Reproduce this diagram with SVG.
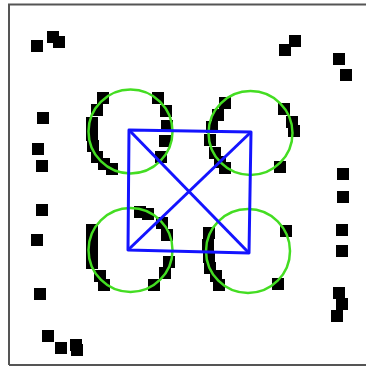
<svg xmlns="http://www.w3.org/2000/svg" width="366" height="367" viewBox="0 0 366 367">
<style>
.f{fill:none;stroke:#555;stroke-width:2}
.s{fill:#000}
.c{fill:none;stroke:#44dd22;stroke-width:2.5}
.b{fill:none;stroke:#1414ff;stroke-width:3;stroke-linejoin:round}
</style>
<defs><rect id="q" width="12" height="12"/></defs>
<rect x="0" y="0" width="366" height="367" fill="#fff"/>
<path class="f" d="M9,365 V4.5 H366 M9,365 H366"/>
<g id="dots" class="s">
<use href="#q" x="31" y="40"/><use href="#q" x="47" y="31"/><use href="#q" x="53" y="36"/>
<use href="#q" x="279" y="44"/><use href="#q" x="289" y="35"/><use href="#q" x="333" y="53"/><use href="#q" x="340" y="69"/>
<use href="#q" x="37" y="112"/><use href="#q" x="32" y="143"/><use href="#q" x="36" y="160"/><use href="#q" x="36" y="204"/><use href="#q" x="31" y="234"/><use href="#q" x="34" y="288"/>
<use href="#q" x="42" y="330"/><use href="#q" x="55" y="342"/><use href="#q" x="70" y="339"/><use href="#q" x="71" y="344"/>
<use href="#q" x="337" y="168"/><use href="#q" x="337" y="191"/><use href="#q" x="336" y="224"/><use href="#q" x="336" y="245"/><use href="#q" x="333" y="287"/><use href="#q" x="336" y="298"/><use href="#q" x="331" y="310"/>
<use href="#q" x="97" y="92"/><use href="#q" x="91" y="104"/><use href="#q" x="86" y="117"/><use href="#q" x="86" y="129"/><use href="#q" x="87" y="140"/><use href="#q" x="91" y="151"/><use href="#q" x="98" y="158"/><use href="#q" x="106" y="163"/>
<use href="#q" x="152" y="92"/><use href="#q" x="160" y="105"/><use href="#q" x="161" y="120"/><use href="#q" x="159" y="135"/><use href="#q" x="155" y="151"/>
<use href="#q" x="219" y="97"/><use href="#q" x="212" y="109"/><use href="#q" x="206" y="121"/><use href="#q" x="204" y="134"/><use href="#q" x="209" y="147"/><use href="#q" x="214" y="156"/><use href="#q" x="219" y="162"/>
<use href="#q" x="278" y="103"/><use href="#q" x="286" y="116"/><use href="#q" x="288" y="125"/><use href="#q" x="274" y="161"/>
<use href="#q" x="134" y="206"/><use href="#q" x="142" y="208"/><use href="#q" x="156" y="217"/><use href="#q" x="161" y="229"/><use href="#q" x="163" y="256"/><use href="#q" x="159" y="267"/><use href="#q" x="148" y="279"/>
<use href="#q" x="86" y="224"/><use href="#q" x="86" y="236"/><use href="#q" x="86" y="248"/><use href="#q" x="86" y="257"/><use href="#q" x="94" y="270"/><use href="#q" x="98" y="279"/>
<use href="#q" x="203" y="227"/><use href="#q" x="202" y="239"/><use href="#q" x="203" y="251"/><use href="#q" x="204" y="262"/><use href="#q" x="210" y="270"/><use href="#q" x="213" y="279"/>
<use href="#q" x="280" y="225"/><use href="#q" x="272" y="278"/>
</g>
<g id="circles" class="c">
<circle cx="130.5" cy="131.5" r="42"/>
<circle cx="250.5" cy="133" r="42"/>
<circle cx="130.5" cy="250" r="42"/>
<circle cx="248" cy="251" r="42"/>
</g>
<g id="quad" class="b">
<polygon points="129,130 251,132 249,253 128,250"/>
<line x1="129" y1="130" x2="249" y2="253"/>
<line x1="251" y1="132" x2="128" y2="250"/>
</g>
</svg>
